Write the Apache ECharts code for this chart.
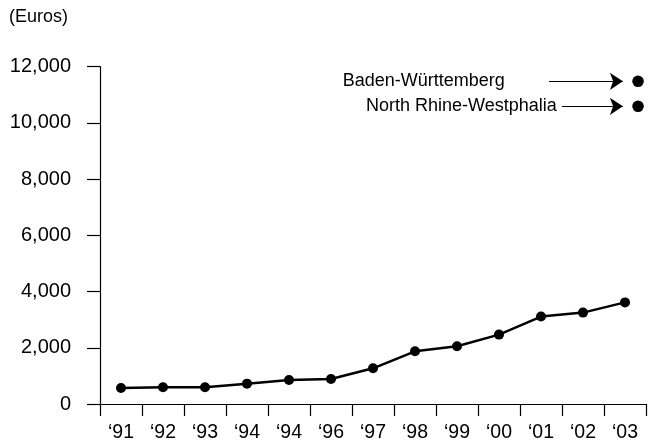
<!DOCTYPE html>
<html><head><meta charset="utf-8">
<script src="https://cdn.jsdelivr.net/npm/echarts@6/dist/echarts.min.js"></script>
<style>html,body{margin:0;padding:0;background:#fff}#c{width:663px;height:446px}</style>
</head><body><div id="c"></div>
<script>
const categories = ['\u201891','\u201892','\u201893','\u201894','\u201894','\u201896','\u201897','\u201898','\u201899','\u201800','\u201801','\u201802','\u201803'];
const values = [570, 593, 593, 724, 855, 890, 1270, 1875, 2053, 2469, 3110, 3252, 3615];
const regionNames = ['Baden-Württemberg', 'North Rhine-Westphalia'];
const regionValues = [11480, 10590];
const yTicks = [0, 2000, 4000, 6000, 8000, 10000, 12000];
const unitLabel = '(Euros)';

const FONT = '"Liberation Sans", Arial, Helvetica, sans-serif';
const chart = echarts.init(document.getElementById('c'));
const dotX = 12.81;
const arrowStarts = [10.69, 11.0];
const arrowEnd = 12.45;
const labelDist = [127.5, 75.5];

chart.setOption({
  animation: false,
  grid: { left: 100, right: 17, top: 66.7, bottom: 42 },
  graphic: [{ type: 'text', left: 9, top: 8, style: { text: unitLabel, font: '18px ' + FONT, fill: '#000' } }],
  xAxis: [{
    type: 'category', data: categories, boundaryGap: true,
    axisLine: { lineStyle: { color: '#000', width: 1.2 } },
    axisTick: { show: true, length: 12, inside: false, lineStyle: { color: '#000', width: 1.2 } },
    axisLabel: { color: '#000', fontSize: 19.5, fontFamily: FONT, margin: 19 },
    splitLine: { show: false }
  }, {
    type: 'value', min: 0, max: 13, show: false, position: 'bottom'
  }],
  yAxis: {
    type: 'value', min: yTicks[0], max: yTicks[yTicks.length - 1], interval: 2000,
    axisLine: { show: true, lineStyle: { color: '#000', width: 1.2 } },
    axisTick: { show: true, length: 13, lineStyle: { color: '#000', width: 1.2 } },
    axisLabel: { color: '#000', fontSize: 20, fontFamily: FONT, margin: 29,
      formatter: v => v.toLocaleString('en-US') },
    splitLine: { show: false }
  },
  series: [{
    type: 'line', data: values, xAxisIndex: 0,
    symbol: 'circle', symbolSize: 10,
    itemStyle: { color: '#000', opacity: 1 },
    lineStyle: { color: '#000', width: 2.5 }
  }, {
    type: 'scatter', xAxisIndex: 1,
    symbol: 'circle', symbolSize: 11.5,
    itemStyle: { color: '#000', opacity: 1 },
    data: regionNames.map((n, i) => ({
      value: [dotX, regionValues[i]], name: n,
      label: { show: true, position: 'left', distance: labelDist[i], formatter: n,
        color: '#000', fontSize: 18, fontFamily: FONT }
    })),
    markLine: {
      silent: true, symbol: ['none', 'arrow'], symbolSize: 13,
      lineStyle: { color: '#000', width: 1.2, type: 'solid' },
      label: { show: false },
      emphasis: { disabled: true },
      data: regionValues.map((v, i) => [{ coord: [arrowStarts[i], v] }, { coord: [arrowEnd, v] }])
    }
  }]
});
</script></body></html>
